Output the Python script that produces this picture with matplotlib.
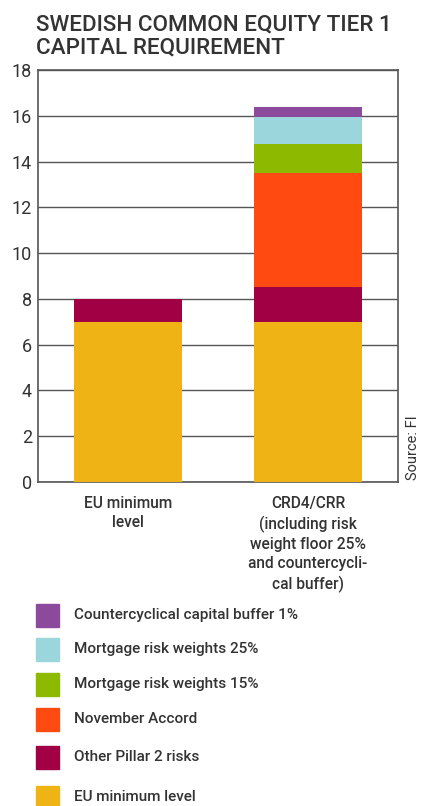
import numpy as np
import matplotlib.pyplot as plt
from matplotlib.patches import Rectangle

# stacked components, bottom to top
categories = ["EU minimum\nlevel",
              "CRD4/CRR\n(including risk\nweight floor 25%\nand countercycli-\ncal buffer)"]
series_names = ["EU minimum level", "Other Pillar 2 risks", "November Accord",
                "Mortgage risk weights 15%", "Mortgage risk weights 25%",
                "Countercyclical capital buffer 1%"]
eu_minimum = [7.0, 7.0]
other_pillar2 = [1.0, 1.5]
november_accord = [0.0, 5.0]
mortgage_15 = [0.0, 1.25]
mortgage_25 = [0.0, 1.2]
countercyclical = [0.0, 0.45]
yticks = [0, 2, 4, 6, 8, 10, 12, 14, 16, 18]

colors = ["#EFB316", "#A10044", "#FF4A12", "#8DB900", "#9AD6DB", "#8B4A9C"]
txt = "#333333"
font = ["Roboto", "DejaVu Sans"]
plt.rcParams["font.family"] = font

fig = plt.figure(figsize=(4.21, 8.06), dpi=100)
ax = fig.add_axes([0.0895, 0.402, 0.856, 0.511])

stack = [eu_minimum, other_pillar2, november_accord, mortgage_15,
         mortgage_25, countercyclical]
x = np.arange(len(categories))
bottom = np.zeros(len(categories))
for vals, c in zip(stack, colors):
    ax.bar(x, vals, 0.6, bottom=bottom, color=c, zorder=3)
    bottom += np.array(vals)

ax.set_xlim(-0.5, 1.5)
ax.set_ylim(0, 18)
ax.set_yticks(yticks)
ax.set_yticklabels([str(t) for t in yticks], fontsize=13, color=txt)
ax.yaxis.grid(True, color="#555555", lw=1.0, zorder=0)
ax.tick_params(axis="y", length=0, pad=4)
ax.tick_params(axis="x", length=0, pad=10)
ax.set_xticks(x)
ax.set_xticklabels(categories, fontsize=11.2, fontweight="medium", color=txt,
                   linespacing=1.35, va="top")
for s in ax.spines.values():
    s.set_color("#555555")
    s.set_linewidth(1.2)

fig.text(0.086, 0.927, "SWEDISH COMMON EQUITY TIER 1\nCAPITAL REQUIREMENT",
         fontsize=16.2, fontweight="medium", color=txt, ha="left", va="bottom",
         linespacing=1.12)
fig.text(0.981, 0.404, "Source: FI", rotation=90, fontsize=10.5, color=txt,
         ha="center", va="bottom")

# legend, top entry first
legend_y = [615, 649, 684, 719, 757, 797]
H = 806
for name, c, yc in zip(series_names[::-1], colors[::-1], legend_y):
    fig.add_artist(Rectangle((36 / 421, 1 - (yc + 11.5) / H), 23 / 421, 23 / H,
                             color=c, transform=fig.transFigure))
    fig.text(74 / 421, 1 - yc / H, name, fontsize=11, fontweight="medium",
             color=txt, ha="left", va="center")

fig.savefig("out.png", dpi=100)
